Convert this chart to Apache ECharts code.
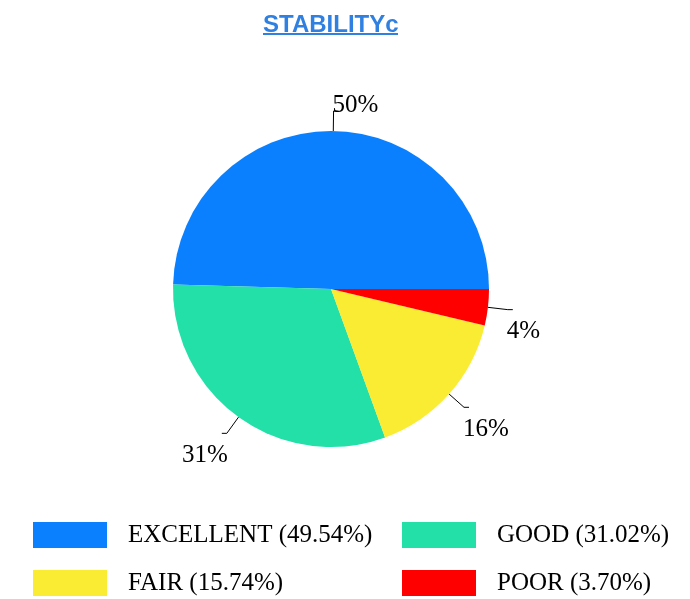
<!DOCTYPE html>
<html>
<head>
<meta charset="utf-8">
<script src="https://cdn.jsdelivr.net/npm/echarts@6/dist/echarts.min.js"></script>
<style>html,body{margin:0;padding:0;background:#fff}#c{width:690px;height:599px}</style>
</head>
<body>
<div id="c"></div>
<script>
const titleText = 'STABILITYc';
const categories = ['EXCELLENT', 'GOOD', 'FAIR', 'POOR'];
const values = [49.54, 31.02, 15.74, 3.70];
const colors = ['#0a80ff', '#22e0a8', '#f9ec32', '#ff0000'];

const total = values.reduce((a, b) => a + b, 0);
const pctMap = {};
categories.forEach((c, i) => { pctMap[c] = (values[i] / total * 100).toFixed(2); });

const chart = echarts.init(document.getElementById('c'), null, {renderer: 'canvas'});
const serif = '"Liberation Serif", "DejaVu Serif", serif';
const legendCommon = {
  type: 'plain',
  orient: 'vertical',
  top: 517,
  height: 150,
  itemWidth: 74,
  itemHeight: 26,
  itemGap: 22,
  icon: 'rect',
  selectedMode: false,
  textStyle: { fontFamily: serif, fontSize: 25, color: '#000', padding: [0, 0, 0, 16], lineHeight: 26 },
  formatter: name => name + ' (' + pctMap[name] + '%)'
};
chart.setOption({
  animation: false,
  backgroundColor: '#fff',
  color: colors,
  title: {
    text: titleText,
    left: 258,
    top: 8,
    textStyle: { fontFamily: 'Arial, "Liberation Sans", sans-serif', fontSize: 24, fontWeight: 'bold', color: '#2f80e0' }
  },
  graphic: [{ type: 'rect', shape: { x: 263, y: 33, width: 135, height: 2 }, style: { fill: '#2f80e0' } }],
  legend: [
    Object.assign({}, legendCommon, { left: 28, data: [categories[0], categories[2]] }),
    Object.assign({}, legendCommon, { left: 397, data: [categories[1], categories[3]] })
  ],
  series: [{
    type: 'pie',
    center: [331, 289],
    radius: 158,
    startAngle: 0,
    clockwise: false,
    avoidLabelOverlap: false,
    itemStyle: { borderWidth: 0 },
    label: {
      show: true,
      position: 'outside',
      fontFamily: serif,
      fontSize: 25,
      color: '#000',
      distanceToLabelLine: 0,
      formatter: p => Math.round(p.percent) + '%'
    },
    labelLine: { show: true, length: 20, length2: 5, lineStyle: { color: '#000', width: 1 } },
    labelLayout: p => {
      const r = p.labelRect;
      const cy = r.y + r.height / 2;
      const cx = r.x + r.width / 2;
      if (cy > 300) return { dy: 22, dx: cx < 331 ? 6 : -6 };
      if (cy > 250) return { dy: 20, dx: -2 };
      return { dy: -6, dx: -6 };
    },
    emphasis: { disabled: true },
    data: categories.map((c, i) => ({ name: c, value: values[i] }))
  }]
});
</script>
</body>
</html>
